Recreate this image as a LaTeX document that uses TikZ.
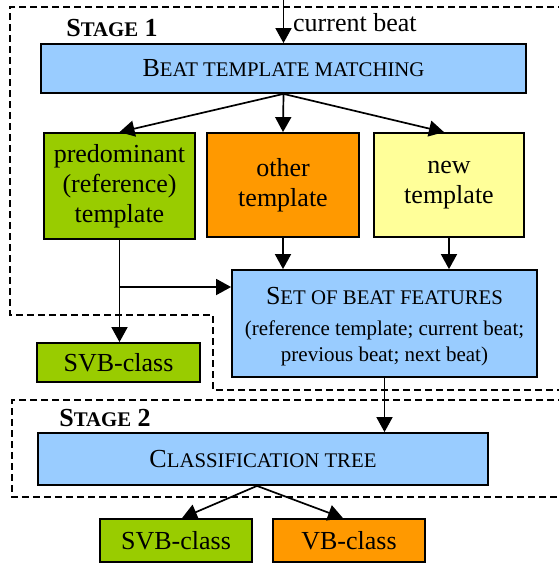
\documentclass[tikz,border=0pt]{standalone}
\usepackage{fontspec}
\setmainfont{Liberation Serif}
\usetikzlibrary{arrows.meta,calc}
\definecolor{boxblue}{HTML}{99CCFF}
\definecolor{boxgreen}{HTML}{99CC00}
\definecolor{boxorange}{HTML}{FF9900}
\definecolor{boxyellow}{HTML}{FFFF99}
% faked small capitals: the lower-case part set as smaller capitals
\newcommand\fakesc[1]{{\fontsize{20.8}{24}\selectfont #1}}
\tikzset{
  blockbox/.style={draw=black, line width=1.8pt, inner sep=0pt, anchor=center,
    align=center, font=\fontsize{26}{30}\selectfont},
  flowarrow/.style={line width=1.7pt, -{Triangle[length=15pt,width=16pt]}},
  stageline/.style={line width=1.5pt, dash pattern=on 7pt off 4pt},
  stagelabel/.style={font=\fontsize{26}{30}\selectfont\bfseries, inner sep=0pt}
}
\begin{document}
\begin{tikzpicture}[x=1pt,y=-1pt]
\useasboundingbox (0,0) rectangle (558,566);

% stage borders
\draw[stageline] (565,7) -- (10,7) -- (10,315) -- (213,315) -- (213,390) -- (565,390);
\draw[stageline] (565,400) -- (12,400) -- (12,497) -- (565,497);

\node[stagelabel] (st1) at (112,28) {S\fakesc{TAGE} 1};
\node[stagelabel] (st2) at (105,418) {S\fakesc{TAGE} 2};

% stage 1 blocks
\node[blockbox, fill=boxblue, minimum width=485pt, minimum height=49pt] (btm) at (283.5,68.5)
  {B\fakesc{EAT TEMPLATE MATCHING}};
\node[blockbox, fill=boxgreen, minimum width=151pt, minimum height=106pt] (green) at (119.5,186)
  {predominant\\(reference)\\template};
\node[blockbox, fill=boxorange, minimum width=152pt, minimum height=104pt] (orange) at (283,185)
  {other\\template};
\node[blockbox, fill=boxyellow, minimum width=150pt, minimum height=104pt] (yellow) at (449,185)
  {new\\template};
\node[blockbox, fill=boxblue, minimum width=305pt, minimum height=107pt] (set) at (384.5,323.5) {};
\node[inner sep=0pt, font=\fontsize{26}{30}\selectfont] (settitle) at (384.5,296)
  {S\fakesc{ET OF BEAT FEATURES}};
\node[inner sep=0pt, align=center, font=\fontsize{21}{26}\selectfont] (setsub) at (384.5,343)
  {(reference template; current beat;\\previous beat; next beat)};
\node[blockbox, fill=boxgreen, minimum width=163pt, minimum height=39pt] (svbA) at (118.5,362.5)
  {SVB-class};

% stage 2 blocks
\node[blockbox, fill=boxblue, minimum width=450pt, minimum height=52pt] (ct) at (263,459)
  {C\fakesc{LASSIFICATION TREE}};
\node[blockbox, fill=boxgreen, minimum width=152pt, minimum height=43pt] (svbB) at (176,540.5)
  {SVB-class};
\node[blockbox, fill=boxorange, minimum width=152pt, minimum height=43pt] (vb) at (349,540.5)
  {VB-class};

% input
\coordinate (in) at (283.5,0);
\draw[flowarrow] (in) -- (btm.north);
\node[anchor=west, inner sep=0pt, font=\fontsize{26}{30}\selectfont] (cb) at (293,23) {current beat};

% connectors
\draw[flowarrow] (btm.south) -- (green.north);
\draw[flowarrow] (btm.south) -- (orange.north);
\draw[flowarrow] (btm.south) -- ($(yellow.north)+(-5,0)$);
\draw[flowarrow] (green.south) -- (green.south |- svbA.north);
\coordinate (br) at (119.5,287);
\draw[flowarrow] (br) -- (br -| set.west);
\draw[flowarrow] (orange.south) -- (orange.south |- set.north);
\draw[flowarrow] (yellow.south) -- (yellow.south |- set.north);
\draw[flowarrow] (set.south) -- (set.south |- ct.north);
\draw[flowarrow] ($(ct.south)+(-6,0)$) -- ($(svbB.north)+(6,0)$);
\draw[flowarrow] ($(ct.south)+(-6,0)$) -- ($(vb.north)+(-6,0)$);
\end{tikzpicture}
\end{document}
